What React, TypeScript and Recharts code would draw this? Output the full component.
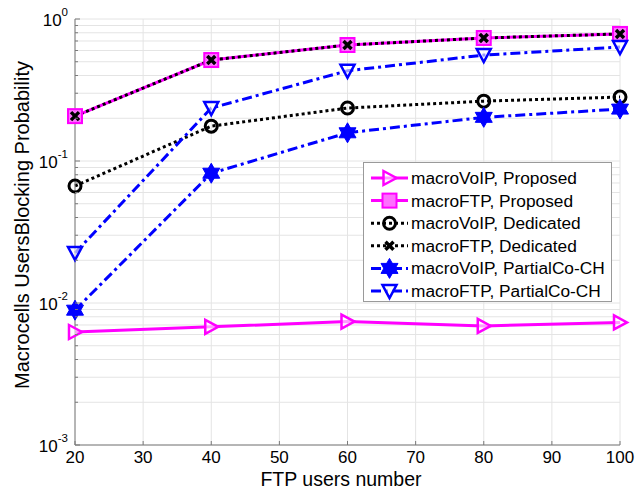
import React from "react";
import { LineChart, Line, XAxis, YAxis, CartesianGrid } from "recharts";

const users = [20, 40, 60, 80, 100];

const voipProposed = [0.00625, 0.0068, 0.0074, 0.0069, 0.0073];
const ftpProposed = [0.207, 0.514, 0.656, 0.735, 0.785];
const voipDedicated = [0.0667, 0.176, 0.236, 0.264, 0.282];
const ftpDedicated = [0.207, 0.514, 0.656, 0.735, 0.785];
const voipPartial = [0.0089, 0.082, 0.158, 0.203, 0.232];
const ftpPartial = [0.0225, 0.236, 0.432, 0.557, 0.635];

const xTicks = [20, 30, 40, 50, 60, 70, 80, 90, 100];
const majorTicks = [0.001, 0.01, 0.1, 1];
const exponents = ["-3", "-2", "-1", "0"];
const yTicks = [
  0.001, 0.002, 0.003, 0.004, 0.005, 0.006, 0.007, 0.008, 0.009,
  0.01, 0.02, 0.03, 0.04, 0.05, 0.06, 0.07, 0.08, 0.09,
  0.1, 0.2, 0.3, 0.4, 0.5, 0.6, 0.7, 0.8, 0.9, 1,
];

const data = users.map((u, i) => ({
  users: u,
  voipProposed: voipProposed[i],
  ftpProposed: ftpProposed[i],
  voipDedicated: voipDedicated[i],
  ftpDedicated: ftpDedicated[i],
  voipPartial: voipPartial[i],
  ftpPartial: ftpPartial[i],
}));

const MAGENTA = "#ff00ff";
const BLUE = "#0000ff";
const FONT = "'Liberation Sans', Arial, sans-serif";
const AXIS = "#7a7a7a";

type MarkerKind = "triRight" | "square" | "circle" | "cross" | "star" | "triDown";

const Marker = ({ kind, cx, cy }: { kind: MarkerKind; cx: number; cy: number }) => {
  switch (kind) {
    case "triRight":
      return (
        <path
          d={`M${cx - 6},${cy - 7} L${cx + 7},${cy} L${cx - 6},${cy + 7} Z`}
          fill="#fff"
          fillOpacity={0.6}
          stroke={MAGENTA}
          strokeWidth={2.5}
        />
      );
    case "square":
      return (
        <rect x={cx - 7} y={cy - 7} width={14} height={14} fill="#ff70ff" stroke={MAGENTA} strokeWidth={2} />
      );
    case "circle":
      return <circle cx={cx} cy={cy} r={6} fill="none" stroke="#000" strokeWidth={3} />;
    case "cross":
      return (
        <path
          d={`M${cx - 4},${cy - 4} L${cx + 4},${cy + 4} M${cx + 4},${cy - 4} L${cx - 4},${cy + 4}`}
          stroke="#000"
          strokeWidth={3.5}
        />
      );
    case "star":
      // six-pointed star, both triangles wound the same way so the centre stays filled
      return (
        <path
          d={`M${cx},${cy - 10} L${cx + 8.5},${cy + 5} L${cx - 8.5},${cy + 5} Z M${cx},${cy + 10} L${cx - 8.5},${cy - 5} L${cx + 8.5},${cy - 5} Z`}
          fill={BLUE}
          stroke={BLUE}
          strokeWidth={1}
        />
      );
    case "triDown":
      return (
        <path
          d={`M${cx - 7},${cy - 6} L${cx + 7},${cy - 6} L${cx},${cy + 7} Z`}
          fill="#fff"
          fillOpacity={0.6}
          stroke={BLUE}
          strokeWidth={2.5}
        />
      );
  }
};

const series: {
  key: string;
  name: string;
  color: string;
  dash?: string;
  marker: MarkerKind;
}[] = [
  { key: "voipProposed", name: "macroVoIP, Proposed", color: MAGENTA, marker: "triRight" },
  { key: "ftpProposed", name: "macroFTP, Proposed", color: MAGENTA, marker: "square" },
  { key: "voipDedicated", name: "macroVoIP, Dedicated", color: "#000", dash: "3 3", marker: "circle" },
  { key: "ftpDedicated", name: "macroFTP, Dedicated", color: "#000", dash: "3 3", marker: "cross" },
  { key: "voipPartial", name: "macroVoIP, PartialCo-CH", color: BLUE, dash: "10 4 3 4", marker: "star" },
  { key: "ftpPartial", name: "macroFTP, PartialCo-CH", color: BLUE, dash: "10 4 3 4", marker: "triDown" },
];

const LeftTick = (props: any) => {
  const { x, y, payload } = props;
  const idx = majorTicks.indexOf(payload.value);
  const len = idx >= 0 ? 5 : 3;
  return (
    <g>
      <line x1={x} y1={y} x2={x + len} y2={y} stroke={AXIS} />
      {idx >= 0 && (
        <text x={x - 7} y={y + 7} textAnchor="end" fontSize={17} fontFamily={FONT} fill="#000">
          10
          <tspan dy={-10} fontSize={11.5}>
            {exponents[idx]}
          </tspan>
        </text>
      )}
    </g>
  );
};

const RightTick = (props: any) => {
  const { x, y, payload } = props;
  const len = majorTicks.includes(payload.value) ? 5 : 3;
  return <line x1={x} y1={y} x2={x - len} y2={y} stroke={AXIS} />;
};

const BottomTick = (props: any) => {
  const { x, y, payload } = props;
  return (
    <g>
      <line x1={x} y1={y} x2={x} y2={y - 4} stroke={AXIS} />
      <text x={x} y={y + 18} textAnchor="middle" fontSize={17} fontFamily={FONT} fill="#000">
        {payload.value}
      </text>
    </g>
  );
};

const TopTick = (props: any) => {
  const { x, y } = props;
  return <line x1={x} y1={y} x2={x} y2={y + 4} stroke={AXIS} />;
};

const LegendBox = () => (
  <div
    style={{
      position: "absolute",
      left: 363,
      top: 162,
      width: 249,
      height: 140,
      background: "#fff",
      border: "1px solid #9a9a9a",
      boxSizing: "border-box",
    }}
  >
    <svg width={249} height={140} style={{ display: "block" }}>
      {series.map((s, i) => {
        const cy = 15 + i * 22.6;
        return (
          <g key={s.key}>
            <line
              x1={7}
              x2={44}
              y1={cy}
              y2={cy}
              stroke={s.color}
              strokeWidth={3}
              strokeDasharray={s.dash}
            />
            <Marker kind={s.marker} cx={25.5} cy={cy} />
            <text x={47} y={cy + 6} fontSize={17.3} fontFamily={FONT} fill="#000">
              {s.name}
            </text>
          </g>
        );
      })}
    </svg>
  </div>
);

export default function App() {
  return (
    <div style={{ position: "absolute", left: 0, top: 0, width: 641, height: 489, background: "#fff" }}>
      <LineChart width={641} height={489} data={data} margin={{ top: 19, right: 21, bottom: 0, left: 0 }}>
        <CartesianGrid stroke="#e4e4e4" strokeWidth={1} />
        <XAxis
          dataKey="users"
          type="number"
          domain={[20, 100]}
          ticks={xTicks}
          height={44}
          tickSize={0}
          tickMargin={0}
          tickLine={false}
          axisLine={{ stroke: AXIS }}
          tick={BottomTick}
          interval={0}
          label={{
            content: () => (
              <text x={341} y={486} textAnchor="middle" fontSize={19.5} fontFamily={FONT} fill="#000">
                FTP users number
              </text>
            ),
          }}
        />
        <XAxis
          xAxisId="top"
          dataKey="users"
          type="number"
          orientation="top"
          domain={[20, 100]}
          ticks={xTicks}
          height={0}
          tickSize={0}
          tickMargin={0}
          tickLine={false}
          axisLine={{ stroke: AXIS }}
          tick={TopTick}
          interval={0}
        />
        <YAxis
          scale="log"
          domain={[0.001, 1]}
          ticks={yTicks}
          allowDataOverflow
          width={75}
          tickSize={0}
          tickMargin={0}
          tickLine={false}
          axisLine={{ stroke: AXIS }}
          tick={LeftTick}
          interval={0}
          label={{
            content: () => (
              <text
                x={29}
                y={225}
                transform="rotate(-90 29 225)"
                textAnchor="middle"
                fontSize={20}
                fontFamily={FONT}
                fill="#000"
              >
                Macrocells UsersBlocking Probability
              </text>
            ),
          }}
        />
        <YAxis
          yAxisId="right"
          orientation="right"
          scale="log"
          domain={[0.001, 1]}
          ticks={yTicks}
          allowDataOverflow
          width={0}
          tickSize={0}
          tickMargin={0}
          tickLine={false}
          axisLine={{ stroke: AXIS }}
          tick={RightTick}
          interval={0}
        />
        {series.map((s) => (
          <Line
            key={s.key}
            dataKey={s.key}
            name={s.name}
            type="linear"
            stroke={s.color}
            strokeWidth={3}
            strokeDasharray={s.dash}
            isAnimationActive={false}
            dot={(p: any) => (
              <Marker key={`${s.key}-${p.index}`} kind={s.marker} cx={p.cx} cy={p.cy} />
            )}
            activeDot={false}
          />
        ))}
      </LineChart>
      <LegendBox />
    </div>
  );
}
